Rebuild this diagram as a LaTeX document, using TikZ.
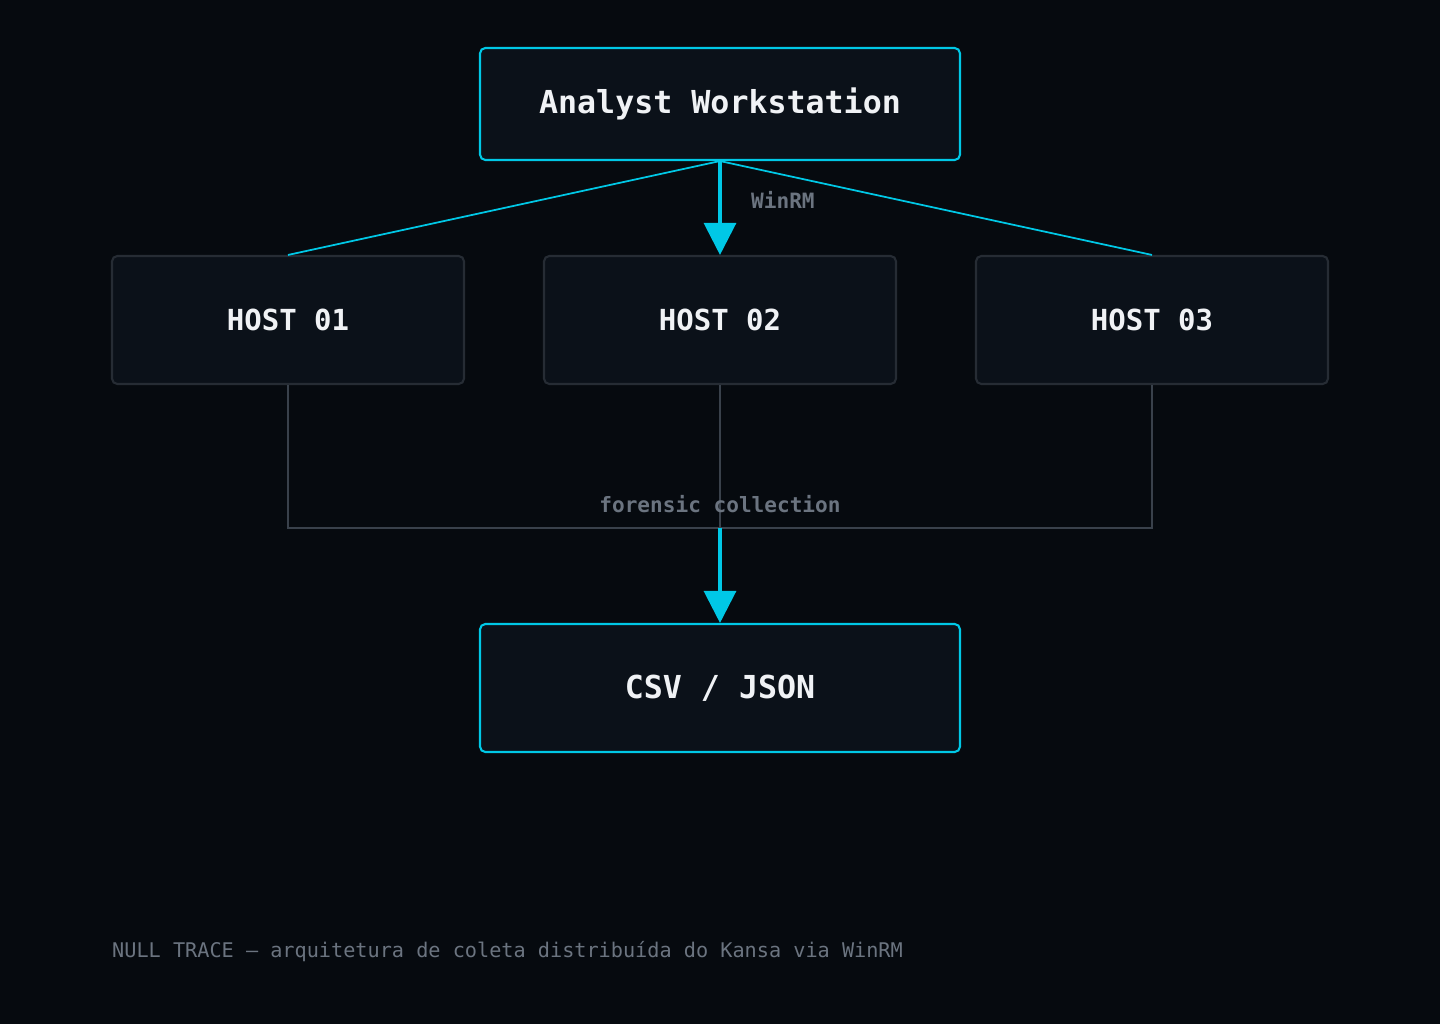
\documentclass[tikz,border=0pt]{standalone}
\usepackage{fontspec}
\setmonofont{DejaVu Sans Mono}
\usetikzlibrary{arrows.meta}
\definecolor{bgc}{HTML}{060A0F}
\definecolor{boxc}{HTML}{0B1119}
\definecolor{cyanc}{HTML}{00C8E6}
\definecolor{edgec}{HTML}{262C34}
\definecolor{wirec}{HTML}{39414B}
\definecolor{labc}{HTML}{6B7480}
\definecolor{txtc}{HTML}{F0F2F5}
\tikzset{mmain/.style={draw=cyanc,line width=1.2pt,fill=boxc,rounded corners=3pt,text=txtc,font=\ttfamily\bfseries\fontsize{18}{20}\selectfont}}
\tikzset{mhost/.style={draw=edgec,line width=1.2pt,fill=boxc,rounded corners=3pt,text=txtc,font=\ttfamily\bfseries\fontsize{16.5}{18}\selectfont}}
\tikzset{mlab/.style={text=labc,font=\ttfamily\bfseries\fontsize{12}{14}\selectfont}}
\tikzset{mfeed/.style={draw=cyanc,line width=1pt}}
\tikzset{mwire/.style={draw=wirec,line width=1pt}}
\tikzset{marrow/.style={draw=cyanc,line width=1.8pt,-{Triangle[length=0.64cm,width=0.64cm]}}}
\begin{document}
\begin{tikzpicture}[x=0.02cm,y=-0.02cm]
\fill[bgc] (0,0) rectangle (1440,1024);
\useasboundingbox (0,0) rectangle (1440,1024);

\node[mmain,minimum width=9.6cm,minimum height=2.24cm] (ws) at (720,104) {Analyst Workstation};
\node[mhost,minimum width=7.04cm,minimum height=2.56cm] (h1) at (288,320) {HOST 01};
\node[mhost,minimum width=7.04cm,minimum height=2.56cm] (h2) at (720,320) {HOST 02};
\node[mhost,minimum width=7.04cm,minimum height=2.56cm] (h3) at (1152,320) {HOST 03};
\node[mmain,minimum width=9.6cm,minimum height=2.56cm] (out) at (720,688) {CSV / JSON};

\draw[mfeed] (ws.south) -- (h1.north);
\draw[mfeed] (ws.south) -- (h3.north);
\draw[marrow] (ws.south) -- (h2.north);
\node[mlab,anchor=west] (winrm) at (745,200) {WinRM};

\coordinate (j) at (720,528);
\draw[mwire] (h1.south) |- (j) -| (h3.south);
\draw[mwire] (h2.south) -- (j);
\draw[marrow] (j) -- (out.north);
\node[mlab] (fc) at (720,504) {forensic collection};

\node[anchor=west,text=labc,font=\ttfamily\fontsize{11.5}{13}\selectfont] (foot) at (106,952) {NULL TRACE — arquitetura de coleta distribuída do Kansa via WinRM};
\end{tikzpicture}
\end{document}
